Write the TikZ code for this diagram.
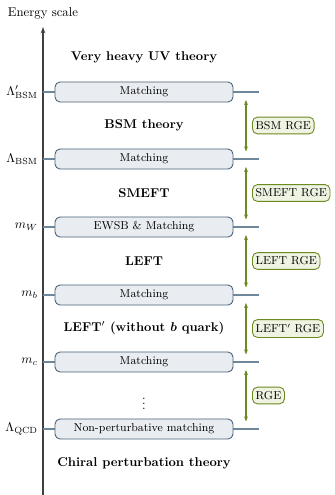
\documentclass[tikz,border=0pt]{standalone}
\usetikzlibrary{arrows.meta}
\definecolor{boxfill}{HTML}{E9EDF1}
\definecolor{boxdraw}{HTML}{4A6078}
\definecolor{levelcol}{HTML}{6F879C}
\definecolor{rgegreen}{HTML}{6B8A1F}
\definecolor{rgefill}{HTML}{EEF3E2}
\newcommand{\bfb}{\mbox{\boldmath$b$}}
\newcommand{\lprime}{\ensuremath{^{\prime}}}
\begin{document}
\begin{tikzpicture}[x=0.784pt,y=-0.784pt,
  axisline/.style={line width=1pt,draw=black!75,-{Stealth[length=5pt,width=3.5pt]}},
  levelline/.style={line width=0.8pt,draw=levelcol},
  matchbox/.style={draw=boxdraw,fill=boxfill,line width=0.7pt,rounded corners=4pt,minimum width=139.6pt,minimum height=15.7pt,inner sep=0pt,font=\small},
  scalelabel/.style={anchor=east,inner sep=0pt},
  theory/.style={font=\bfseries,inner sep=1pt},
  rgearrow/.style={line width=0.8pt,draw=rgegreen,{Stealth[length=4pt,width=3pt]}-{Stealth[length=4pt,width=3pt]}},
  rgebox/.style={draw=rgegreen,fill=rgefill,line width=0.7pt,rounded corners=4pt,anchor=west,font=\small,inner xsep=2.5pt,minimum height=13pt}]
\useasboundingbox (0,0) rectangle (334,495);
% axis
\coordinate (axb) at (43,495);
\coordinate (axt) at (43,27);
\draw[axisline] (axb) -- (axt);
\node (es) at (43,13) {Energy scale};
% levels
\foreach \n/\y in {a/92,b/159,c/227,d/295,e/362,f/429}{
  \coordinate (L\n) at (43,\y);
  \coordinate (R\n) at (259,\y);
  \draw[levelline] (L\n) -- (R\n);
}
\node[matchbox] (Ma) at (144,92) {Matching};
\node[matchbox] (Mb) at (144,159) {Matching};
\node[matchbox] (Mc) at (144,227) {EWSB \& Matching};
\node[matchbox] (Md) at (144,295) {Matching};
\node[matchbox] (Me) at (144,362) {Matching};
\node[matchbox] (Mf) at (144,429) {Non-perturbative matching};
% scale labels
\node[scalelabel] (Sa) at (38,92) {$\Lambda^{\prime}_{\mathrm{BSM}}$};
\node[scalelabel] (Sb) at (38,159) {$\Lambda_{\mathrm{BSM}}$};
\node[scalelabel] (Sc) at (38,227) {$m_W$};
\node[scalelabel] (Sd) at (38,295) {$m_b$};
\node[scalelabel] (Se) at (38,362) {$m_c$};
\node[scalelabel] (Sf) at (38,429) {$\Lambda_{\mathrm{QCD}}$};
% theories
\node[theory] (T0) at (144,57) {Very heavy UV theory};
\node[theory] (T1) at (144,125) {BSM theory};
\node[theory] (T2) at (144,193) {SMEFT};
\node[theory] (T3) at (144,261) {LEFT};
\node[theory] (T4) at (144,328) {LEFT\lprime{} (without \bfb{} quark)};
\node (T5) at (144,400) {$\vdots$};
\node[theory] (T6) at (144,463) {Chiral perturbation theory};
% RGE arrows
\foreach \n/\ya/\yb in {1/92/159,2/159/227,3/227/295,4/295/362,5/362/429}{
  \coordinate (A\n) at (246,\ya+8);
  \coordinate (B\n) at (246,\yb-7.5);
  \draw[rgearrow] (A\n) -- (B\n);
}
\node[rgebox] (G1) at (252,125.5) {BSM RGE};
\node[rgebox] (G2) at (252,193) {SMEFT RGE};
\node[rgebox] (G3) at (252,261) {LEFT RGE};
\node[rgebox] (G4) at (252,328.5) {LEFT\lprime{} RGE};
\node[rgebox] (G5) at (252,395.5) {RGE};
\end{tikzpicture}
\end{document}
